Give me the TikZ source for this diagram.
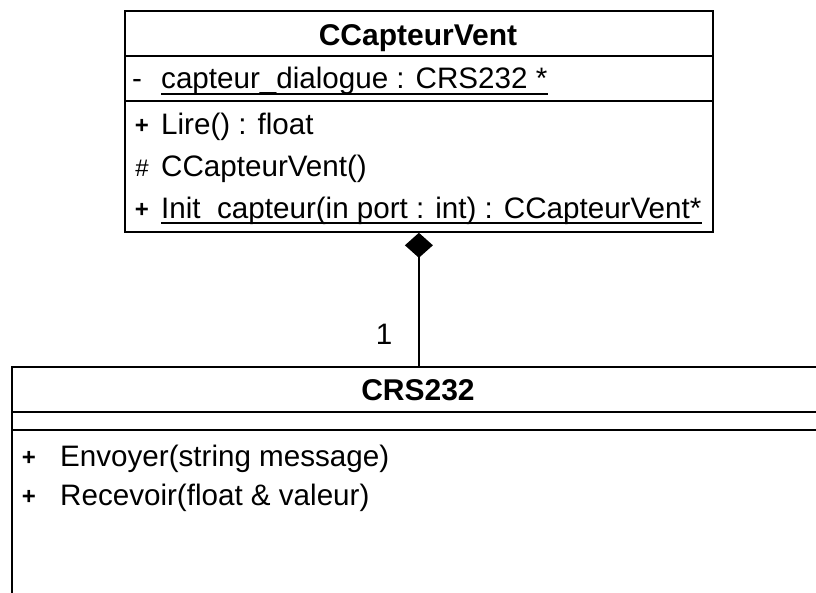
\documentclass[tikz,border=0pt]{standalone}
\usepackage{fontspec}
\setmainfont{Liberation Sans}
\usetikzlibrary{arrows.meta,calc}

\begin{document}
\begin{tikzpicture}[x=1pt,y=-1pt,
  classbox/.style={draw, line width=1.8pt, inner sep=0pt, anchor=north west},
  sep/.style={line width=1.8pt},
  member/.style={anchor=base west, inner sep=0pt, font=\fontsize{29.6}{30}\selectfont},
  vis/.style={anchor=base, inner sep=0pt, font=\fontsize{24}{30}\selectfont\bfseries},
  classname/.style={anchor=base, inner sep=0pt, font=\fontsize{30}{30}\selectfont\bfseries},
  uline/.style={line width=1.6pt},
  compo/.style={line width=1.8pt, {Diamond[length=25pt,width=28pt]}-}
]
\clip (0,0) rectangle (816,592);
\fill[white] (0,0) rectangle (816,592);

% class CCapteurVent
\node[classbox, minimum width=588pt, minimum height=221pt] (capteur) at (124,10) {};
\draw[sep] ($(capteur.north west)+(0,46)$) -- ($(capteur.north east)+(0,46)$);
\draw[sep] ($(capteur.north west)+(0,91)$) -- ($(capteur.north east)+(0,91)$);
\node[classname] (capteurName) at (418,45) {CCapteurVent};

\node[vis, font=\fontsize{29.6}{30}\selectfont] (attrVis) at (137,88) {-};
\node[member] (attr) at (161,88) {capteur\_dialogue : CRS232 *};
\draw[uline] ($(attr.base west)+(0,6)$) -- ($(attr.base east)+(0,6)$);

\node[vis] (m1Vis) at (142,133) {+};
\node[member] (m1) at (161,134) {Lire() : float};
\node[vis] (m2Vis) at (142,176) {\mdseries\#};
\node[member] (m2) at (161,176) {CCapteurVent()};
\node[vis] (m3Vis) at (142,217) {+};
\node[member] (m3) at (161,218) {Init\_capteur(in port : int) : CCapteurVent*};
\draw[uline] ($(m3.base west)+(0,5)$) -- ($(m3.base east)+(0,5)$);

% class CRS232
\node[classbox, minimum width=814pt, minimum height=300pt] (crs) at (11,366) {};
\draw[sep] ($(crs.north west)+(0,46)$) -- ($(crs.north east)+(0,46)$);
\draw[sep] ($(crs.north west)+(0,64)$) -- ($(crs.north east)+(0,64)$);
\node[classname] (crsName) at (418,400) {CRS232};

\node[vis] (r1Vis) at (29,465) {+};
\node[member] (r1) at (60,466) {Envoyer(string message)};
\node[vis] (r2Vis) at (29,504) {+};
\node[member] (r2) at (60,505) {Recevoir(float \& valeur)};

% composition
\draw[compo] (capteur.south) -- (crs.north);
\node[anchor=base, inner sep=0pt, font=\fontsize{29.6}{30}\selectfont] (mult) at (384,344) {1};
\end{tikzpicture}
\end{document}
